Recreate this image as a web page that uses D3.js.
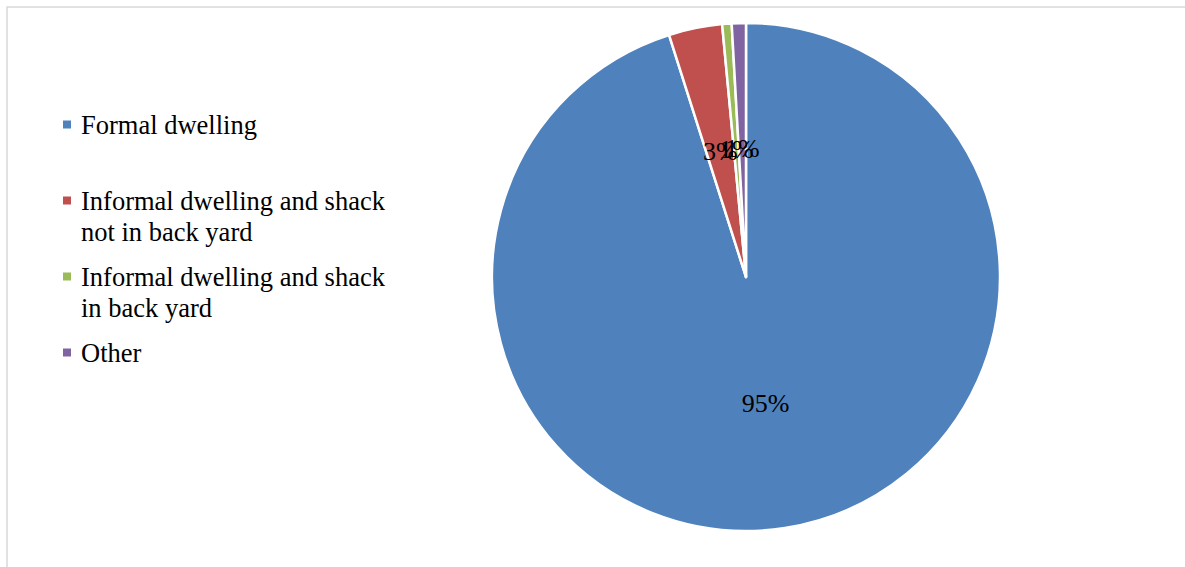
<!DOCTYPE html>
<html>
<head>
<meta charset="utf-8">
<script src="https://cdn.jsdelivr.net/npm/d3@7"></script>
<style>
  html, body { margin: 0; padding: 0; background: #fff; }
  svg { display: block; }
</style>
</head>
<body>
<svg id="chart" width="1185" height="567"></svg>
<script>
const categories = [
  "Formal dwelling",
  "Informal dwelling and shack not in back yard",
  "Informal dwelling and shack in back yard",
  "Other"
];
const legendLines = [
  ["Formal dwelling"],
  ["Informal dwelling and shack", "not in back yard"],
  ["Informal dwelling and shack", "in back yard"],
  ["Other"]
];
const values = [95.1, 3.4, 0.6, 0.9];
const labels = ["95%", "3%", "1%", "1%"];
const colors = ["#4F81BD", "#C0504D", "#9BBB59", "#8064A2"];

const svg = d3.select("#chart");
const W = 1185, H = 567;

// frame
svg.append("rect")
  .attr("x", 7).attr("y", 7).attr("width", W + 10).attr("height", H + 10)
  .attr("fill", "none").attr("stroke", "#d9d9d9").attr("stroke-width", 1.5);

const cx = 746, cy = 277, R = 254;
const color = d3.scaleOrdinal().domain(categories).range(colors);

const pie = d3.pie().sort(null).value(d => d.v);
const data = categories.map((c, i) => ({ c, v: values[i], l: labels[i] }));
const arcs = pie(data);
const arc = d3.arc().innerRadius(0).outerRadius(R);
const labelArc = d3.arc().innerRadius(R * 0.505).outerRadius(R * 0.505);

const g = svg.append("g").attr("transform", `translate(${cx},${cy})`);
g.selectAll("path.slice").data(arcs).enter().append("path")
  .attr("class", "slice")
  .attr("d", arc)
  .attr("fill", d => color(d.data.c))
  .attr("stroke", "#fff").attr("stroke-width", 2.5).attr("stroke-linejoin", "round");

g.selectAll("text.lbl").data(arcs).enter().append("text")
  .attr("class", "lbl")
  .attr("transform", d => `translate(${labelArc.centroid(d)})`)
  .attr("text-anchor", "middle")
  .attr("dominant-baseline", "central")
  .attr("font-family", "'Liberation Serif', 'Times New Roman', serif")
  .attr("font-size", 26)
  .attr("fill", "#000")
  .text(d => d.data.l);

// legend
const legendY = [125, 201, 277, 353];
const lg = svg.append("g");
categories.forEach((c, i) => {
  lg.append("rect")
    .attr("x", 63).attr("y", legendY[i] - 4.5).attr("width", 8).attr("height", 8)
    .attr("fill", color(c));
  legendLines[i].forEach((t, j) => {
    lg.append("text")
      .attr("x", 81).attr("y", legendY[i] + j * 31)
      .attr("dominant-baseline", "central")
      .attr("font-family", "'Liberation Serif', 'Times New Roman', serif")
      .attr("font-size", 26.5)
      .attr("fill", "#000")
      .text(t);
  });
});
</script>
</body>
</html>
